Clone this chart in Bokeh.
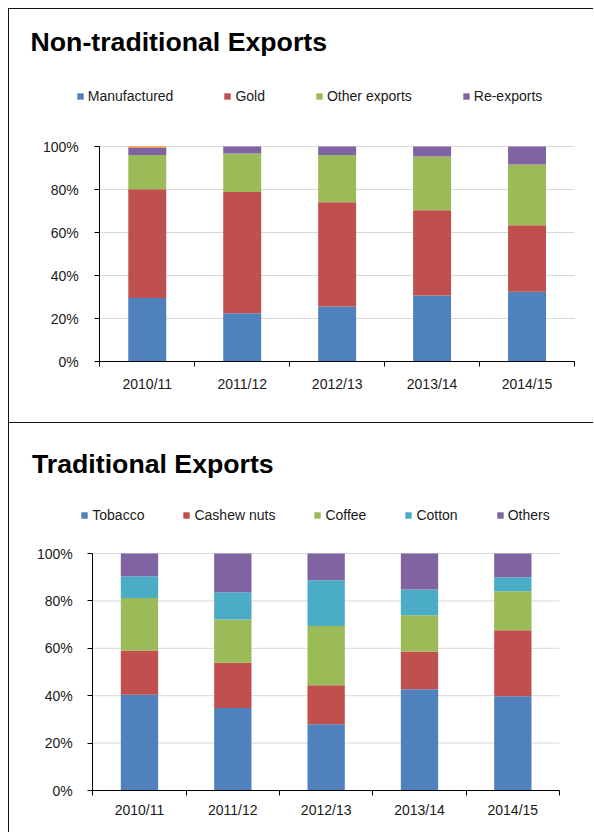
from bokeh.plotting import figure
from bokeh.models import (ColumnDataSource, FixedTicker, PrintfTickFormatter,
                          Legend, LegendItem, Range1d, Spacer, Label)
from bokeh.layouts import column, row
from bokeh.embed import file_html
from bokeh.resources import INLINE

# ---------------- data ----------------
years = ["2010/11", "2011/12", "2012/13", "2013/14", "2014/15"]
y_ticks = [0, 20, 40, 60, 80, 100]

# Non-traditional exports (share of total, %)
nt_names = ["Manufactured", "Gold", "Other exports", "Re-exports", "Unspecified"]
manufactured = [29.5, 22.5, 25.6, 30.7, 32.4]
gold = [50.6, 56.3, 48.5, 39.7, 31.0]
other_exports = [15.9, 17.9, 21.9, 24.9, 28.2]
re_exports = [3.3, 3.3, 4.0, 4.7, 8.4]
unspecified = [0.7, 0.0, 0.0, 0.0, 0.0]

# Traditional exports (share of total, %)
tr_names = ["Tobacco", "Cashew nuts", "Coffee", "Cotton", "Others"]
tobacco = [40.4, 34.8, 28.0, 42.7, 39.8]
cashew_nuts = [18.7, 19.1, 16.4, 15.9, 27.8]
coffee = [22.1, 18.3, 25.0, 15.3, 16.5]
cotton = [9.2, 11.4, 19.3, 10.9, 5.9]
others = [9.6, 16.4, 11.3, 15.2, 10.0]

BLUE, RED, GREEN, PURPLE, CYAN, ORANGE = "#4F81BD", "#C0504D", "#9BBB59", "#8064A2", "#4BACC6", "#F79646"
FONT = "Liberation Sans"

PAGE_W = 585  # width of each panel (incl. its 1px left border)


def make_chart(title, names, values, colors, legend_count, top, height, geom,
               title_xy, legend_xy, legend_spacing, x_standoff, y_standoff):
    """geom = page-pixel positions of (axis left, axis right, 100% line, 0% line)."""
    ax_left, ax_right, y_top, y_bottom = geom
    n = len(years)
    cx0, cy0 = 9, top + 1                      # canvas origin on the page
    cx1, cy1 = cx0 + PAGE_W, cy0 + height
    ppu_x = (ax_right - ax_left) / n
    ppu_y = (y_bottom - y_top) / 100.0
    x_range = Range1d(-(ax_left - cx0) / ppu_x, n + (cx1 - ax_right) / ppu_x)
    y_range = Range1d(-(cy1 - y_bottom) / ppu_y, (y_bottom - cy0) / ppu_y)

    xs = [i + 0.5 for i in range(n)]
    data = {"x": xs}
    for nm, v in zip(names, values):
        data[nm] = v
    src = ColumnDataSource(data)

    p = figure(width=PAGE_W, height=height, x_range=x_range, y_range=y_range,
               output_backend="svg", toolbar_location=None, tools="",
               min_border=0)

    # horizontal grid lines spanning only the category area
    grid_src = ColumnDataSource(dict(x0=[0] * (len(y_ticks) - 1), x1=[n] * (len(y_ticks) - 1),
                                     y=y_ticks[1:]))
    p.segment(x0="x0", x1="x1", y0="y", y1="y", source=grid_src,
              line_color="#D9D9D9", line_width=1, level="underlay")

    rs = p.vbar_stack(names, x="x", width=0.4, fill_color=colors, line_color=None,
                      source=src)

    tx, ty = title_xy
    p.add_layout(Label(x=tx - cx0, y=cy1 - ty, x_units="screen", y_units="screen",
                       text=title, text_font=FONT, text_font_size="26.7px",
                       text_font_style="bold", text_color="#000000",
                       text_align="left", text_baseline="alphabetic"))

    lx, ly = legend_xy
    items = [LegendItem(label=names[i], renderers=[rs[i]]) for i in range(legend_count)]
    leg = Legend(items=items, location=(lx - cx0, cy1 - (ly + 8)),
                 orientation="horizontal", glyph_width=8, glyph_height=8,
                 label_height=8, label_standoff=4, spacing=legend_spacing,
                 padding=0, margin=0, border_line_color=None, background_fill_alpha=0,
                 label_text_font=FONT, label_text_font_size="14px",
                 label_text_color="#1a1a1a")
    p.add_layout(leg)

    xa = p.xaxis[0]
    xa.fixed_location = 0
    xa.bounds = (0, n)
    xa.ticker = FixedTicker(ticks=xs, minor_ticks=list(range(n + 1)))
    xa.major_label_overrides = {x: y for x, y in zip(xs, years)}
    xa.major_tick_line_color = None
    xa.major_tick_out = 0
    xa.major_tick_in = 0
    xa.minor_tick_out = 5
    xa.minor_tick_in = 0
    xa.minor_tick_line_color = "#000000"
    xa.axis_line_color = "#000000"
    xa.major_label_standoff = x_standoff
    xa.major_label_text_font = FONT
    xa.major_label_text_font_size = "14px"
    xa.major_label_text_color = "#1a1a1a"

    ya = p.yaxis[0]
    ya.fixed_location = 0
    ya.bounds = (0, 100)
    ya.ticker = FixedTicker(ticks=y_ticks)
    ya.formatter = PrintfTickFormatter(format="%d%%")
    ya.major_tick_out = 5
    ya.major_tick_in = 0
    ya.minor_tick_line_color = None
    ya.major_tick_line_color = "#000000"
    ya.axis_line_color = "#000000"
    ya.major_label_standoff = y_standoff
    ya.major_label_text_font = FONT
    ya.major_label_text_font_size = "14px"
    ya.major_label_text_color = "#1a1a1a"

    p.xgrid.visible = False
    p.ygrid.visible = False
    p.outline_line_color = None
    p.background_fill_color = "white"
    p.border_fill_color = "white"
    p.styles = {"border-left": "1px solid #111111", "border-top": "1px solid #111111"}
    return p


p1 = make_chart("Non-traditional Exports", nt_names,
                [manufactured, gold, other_exports, re_exports, unspecified],
                [BLUE, RED, GREEN, PURPLE, ORANGE], 4, 8, 414,
                (99.3, 574, 146, 361), (30, 41.5), (75.8, 96), 50, 9, 16)

p2 = make_chart("Traditional Exports", tr_names,
                [tobacco, cashew_nuts, coffee, cotton, others],
                [BLUE, RED, GREEN, CYAN, PURPLE], 5, 422, 410,
                (92.3, 559, 553, 790), (31.5, 463), (80.3, 515), 38, 6, 15)

layout = row(Spacer(width=8), column(Spacer(height=8), p1, p2))
open("out.html", "w").write(file_html(layout, INLINE))
